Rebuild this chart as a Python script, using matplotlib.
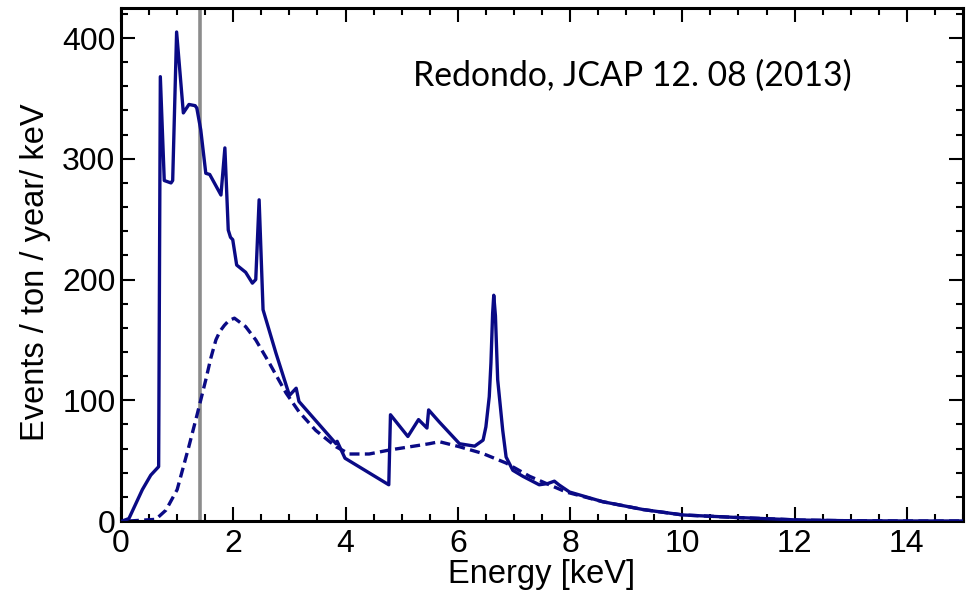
import matplotlib.pyplot as plt
from matplotlib.ticker import MultipleLocator

# total signal (solid)
e_tot = [0.02, 0.14, 0.25, 0.38, 0.53, 0.67, 0.70, 0.77, 0.89, 0.92, 0.99,
         1.11, 1.21, 1.32, 1.35, 1.42, 1.51, 1.58, 1.78, 1.85, 1.91, 1.95,
         1.99, 2.06, 2.22, 2.34, 2.40, 2.46, 2.53, 2.76, 3.00, 3.12, 3.17, 3.83,
         3.85, 3.99, 4.77, 4.80, 5.11, 5.30, 5.45, 5.48, 5.67, 6.03, 6.30,
         6.45, 6.50, 6.56, 6.59, 6.62, 6.64, 6.67, 6.71, 6.80, 6.86, 6.98,
         7.16, 7.45, 7.60, 7.72, 7.80, 7.99, 8.58, 9.30, 10.01, 11.02, 12.09,
         13.0, 14.0, 15.0]
r_tot = [0, 2, 13, 26, 38, 45, 368, 282, 280, 282, 405,
         338, 345, 344, 342, 324, 288, 287, 270, 309, 241, 235,
         233, 212, 206, 197, 200, 266, 175, 139, 104, 110, 99, 64,
         66, 52, 30, 88, 70, 84, 77, 92, 82, 64, 62,
         67, 78, 103, 131, 172, 187, 170, 117, 75, 53, 42,
         37, 30, 31, 33, 30, 24, 16, 9.5, 5, 2.8, 0.8,
         0.2, 0, 0]

# continuum (dashed)
e_cont = [0.14, 0.62, 0.80, 1.00, 1.21, 1.36, 1.51, 1.60, 1.69, 1.76, 1.84,
          1.92, 2.02, 2.22, 2.40, 2.64, 2.94, 3.17, 3.47, 3.83, 4.07, 4.42,
          4.78, 5.49, 5.67, 6.03, 6.44, 6.86, 7.28, 7.63, 7.93, 8.58, 9.30,
          10.01, 11.02, 12.09, 13.0, 14.0, 15.0]
r_cont = [0, 1.4, 9, 26, 62, 89, 117, 135, 150, 157, 162,
          166, 168, 161, 150, 131, 106, 90.5, 75, 61.5, 55.5, 55.5,
          58.8, 64, 65.7, 61.5, 56, 48, 37, 30, 24, 16, 9.5,
          5, 2.8, 0.8, 0.2, 0, 0]

threshold = 1.4

plt.rcParams['font.family'] = ['Liberation Sans', 'DejaVu Sans']

fig = plt.figure(figsize=(9.66, 6.01), dpi=100)
ax = fig.add_axes([0.1253, 0.1331, 0.8716, 0.8530])

ax.axvline(threshold, color='#8c8c8c', lw=2.6, zorder=1)
ax.plot(e_cont, r_cont, color='#0a0a85', lw=2.4, linestyle=(0, (3, 1.6)), zorder=2)
ax.plot(e_tot, r_tot, color='#0a0a85', lw=2.4, zorder=3)

ax.set_xlim(0, 15)
ax.set_ylim(0, 424.6)
ax.xaxis.set_major_locator(MultipleLocator(2))
ax.xaxis.set_minor_locator(MultipleLocator(0.5))
ax.yaxis.set_major_locator(MultipleLocator(100))
ax.yaxis.set_minor_locator(MultipleLocator(20))
ax.tick_params(which='both', direction='in', top=True, right=True,
               width=1.5, labelsize=23)
ax.tick_params(axis='y', pad=4)
ax.tick_params(axis='x', pad=6)
ax.tick_params(which='major', length=10)
ax.tick_params(which='minor', length=5)
for s in ax.spines.values():
    s.set_linewidth(2.2)

ax.set_xlabel('Energy [keV]', fontsize=23.5, labelpad=0)
ax.set_ylabel('Events / ton / year/ keV', fontsize=23.5, labelpad=5)
ax.yaxis.set_label_coords(-0.083, 0.485)

ax.text(9.1, 369, 'Redondo, JCAP 12. 08 (2013)', family='Lato',
        fontsize=24.3, ha='center', va='center')

fig.savefig('out.png', dpi=100)
